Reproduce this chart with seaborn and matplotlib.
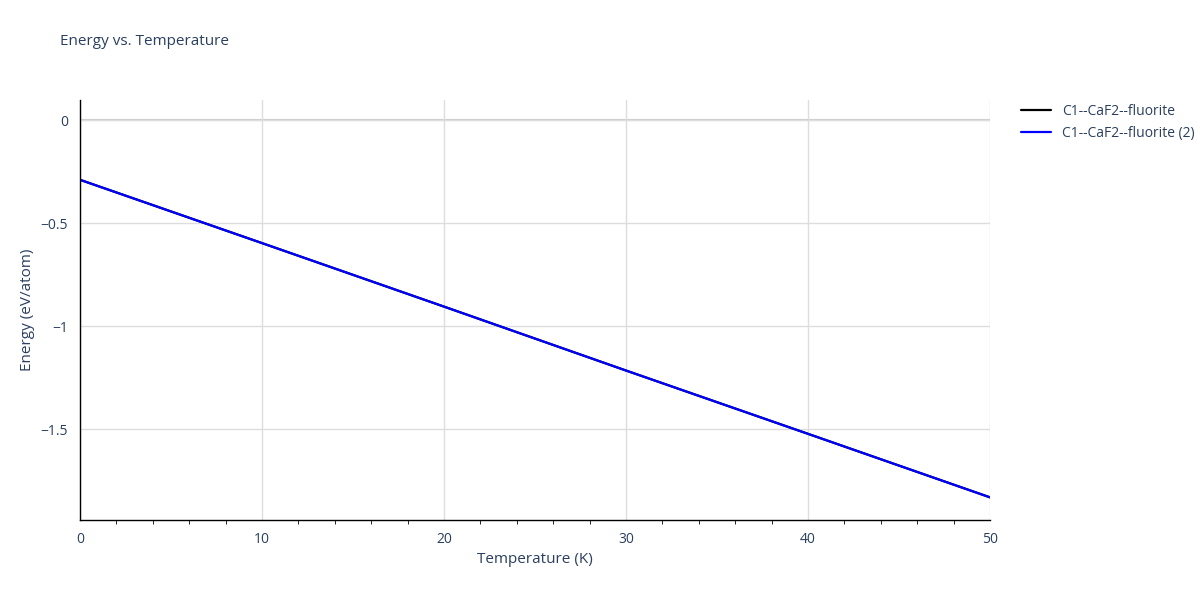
import pandas as pd
import seaborn as sns
import matplotlib.pyplot as plt
from matplotlib.ticker import MultipleLocator

temperature = [0, 10, 20, 30, 40, 50]
energy_1 = [-0.29, -0.597, -0.905, -1.215, -1.522, -1.83]
energy_2 = [-0.29, -0.597, -0.905, -1.215, -1.522, -1.83]

df = pd.DataFrame({
    "Temperature": temperature * 2,
    "Energy": energy_1 + energy_2,
    "series": ["C1--CaF2--fluorite"] * 6 + ["C1--CaF2--fluorite (2)"] * 6,
})

sns.set_style("white")
plt.rcParams['font.family'] = ['Open Sans', 'DejaVu Sans']
txt = "#2a3f5f"

fig = plt.figure(figsize=(12, 6), dpi=100)
ax = fig.add_axes([0.0667, 0.1333, 0.7583, 0.7])
sns.lineplot(data=df, x="Temperature", y="Energy", hue="series",
             palette=["black", "blue"], linewidth=1.6, ax=ax)

ax.set_xlim(0, 50)
ax.set_ylim(-1.94, 0.097)
ax.xaxis.set_major_locator(MultipleLocator(10))
ax.xaxis.set_minor_locator(MultipleLocator(2))
ax.yaxis.set_major_locator(MultipleLocator(0.5))
ax.grid(True, which="major", color="#dddddd", linewidth=1)
ax.axhline(0, color="#cccccc", linewidth=1.5, zorder=0)
for s in ["top", "right"]:
    ax.spines[s].set_visible(False)
for s in ["left", "bottom"]:
    ax.spines[s].set_color("black")
    ax.spines[s].set_linewidth(1)
ax.tick_params(axis="both", which="major", length=5, color="black", labelcolor=txt, labelsize=10)
ax.tick_params(axis="x", which="minor", length=3, color="black", bottom=True)
ax.set_yticklabels([f"{v:g}".replace("-", "\u2212") for v in ax.get_yticks()])

ax.set_xlabel("Temperature (K)", color=txt, fontsize=11)
ax.set_ylabel("Energy (eV/atom)", color=txt, fontsize=11)
fig.text(0.05, 0.925, "Energy vs. Temperature", color=txt, fontsize=11)

leg = ax.legend(loc="upper left", bbox_to_anchor=(1.02, 1.02), frameon=False,
                fontsize=10, handlelength=2.2)
for t in leg.get_texts():
    t.set_color(txt)

fig.savefig("out.png")
